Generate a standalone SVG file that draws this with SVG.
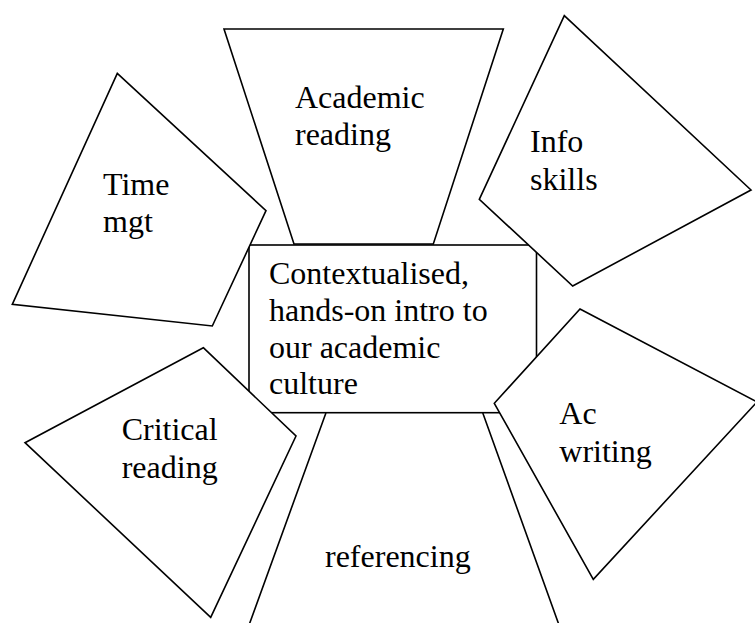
<svg xmlns="http://www.w3.org/2000/svg" width="755" height="623" viewBox="0 0 755 623">
<style>
.s{fill:#fff;stroke:#000;stroke-width:1.6;stroke-linejoin:miter}
.t{font-family:"Liberation Serif","Times New Roman",serif;font-size:32px;fill:#000}
</style>
<rect width="755" height="623" fill="#fff"/>
<g id="center">
<rect class="s" x="249" y="245" width="287.5" height="167.7"/>
<text class="t" x="269" y="284">Contextualised,</text>
<text class="t" x="269" y="321">hands-on intro to</text>
<text class="t" x="269" y="357.7">our academic</text>
<text class="t" x="269" y="394.3">culture</text>
</g>
<g id="time-mgt">
<polygon class="s" points="117.3,73.3 266,210.7 212.3,326 12.3,304.3"/>
<text class="t" x="103" y="195">Time</text>
<text class="t" x="103" y="231.7">mgt</text>
</g>
<g id="academic-reading">
<polygon class="s" points="224,29 503.3,29 433.3,244 294,244"/>
<text class="t" x="295" y="108.3">Academic</text>
<text class="t" x="295" y="145">reading</text>
</g>
<g id="info-skills">
<polygon class="s" points="564.3,15.7 751,190 572.7,286 479.3,199.3"/>
<text class="t" x="530" y="151.7">Info</text>
<text class="t" x="530" y="190">skills</text>
</g>
<g id="critical-reading">
<polygon class="s" points="203.3,347.7 296,436 210.7,617.3 25,442.7"/>
<text class="t" x="121.7" y="440">Critical</text>
<text class="t" x="121.7" y="477.7">reading</text>
</g>
<g id="referencing">
<polygon class="s" points="326,412.7 482.7,412.7 568,650 240,650"/>
<text class="t" x="325" y="566.7">referencing</text>
</g>
<g id="ac-writing">
<polygon class="s" points="580,309 757,402 593.3,579.3 494.3,403.3"/>
<text class="t" x="559.3" y="424">Ac</text>
<text class="t" x="559.3" y="461.7">writing</text>
</g>
<g id="connectors"></g>
</svg>
